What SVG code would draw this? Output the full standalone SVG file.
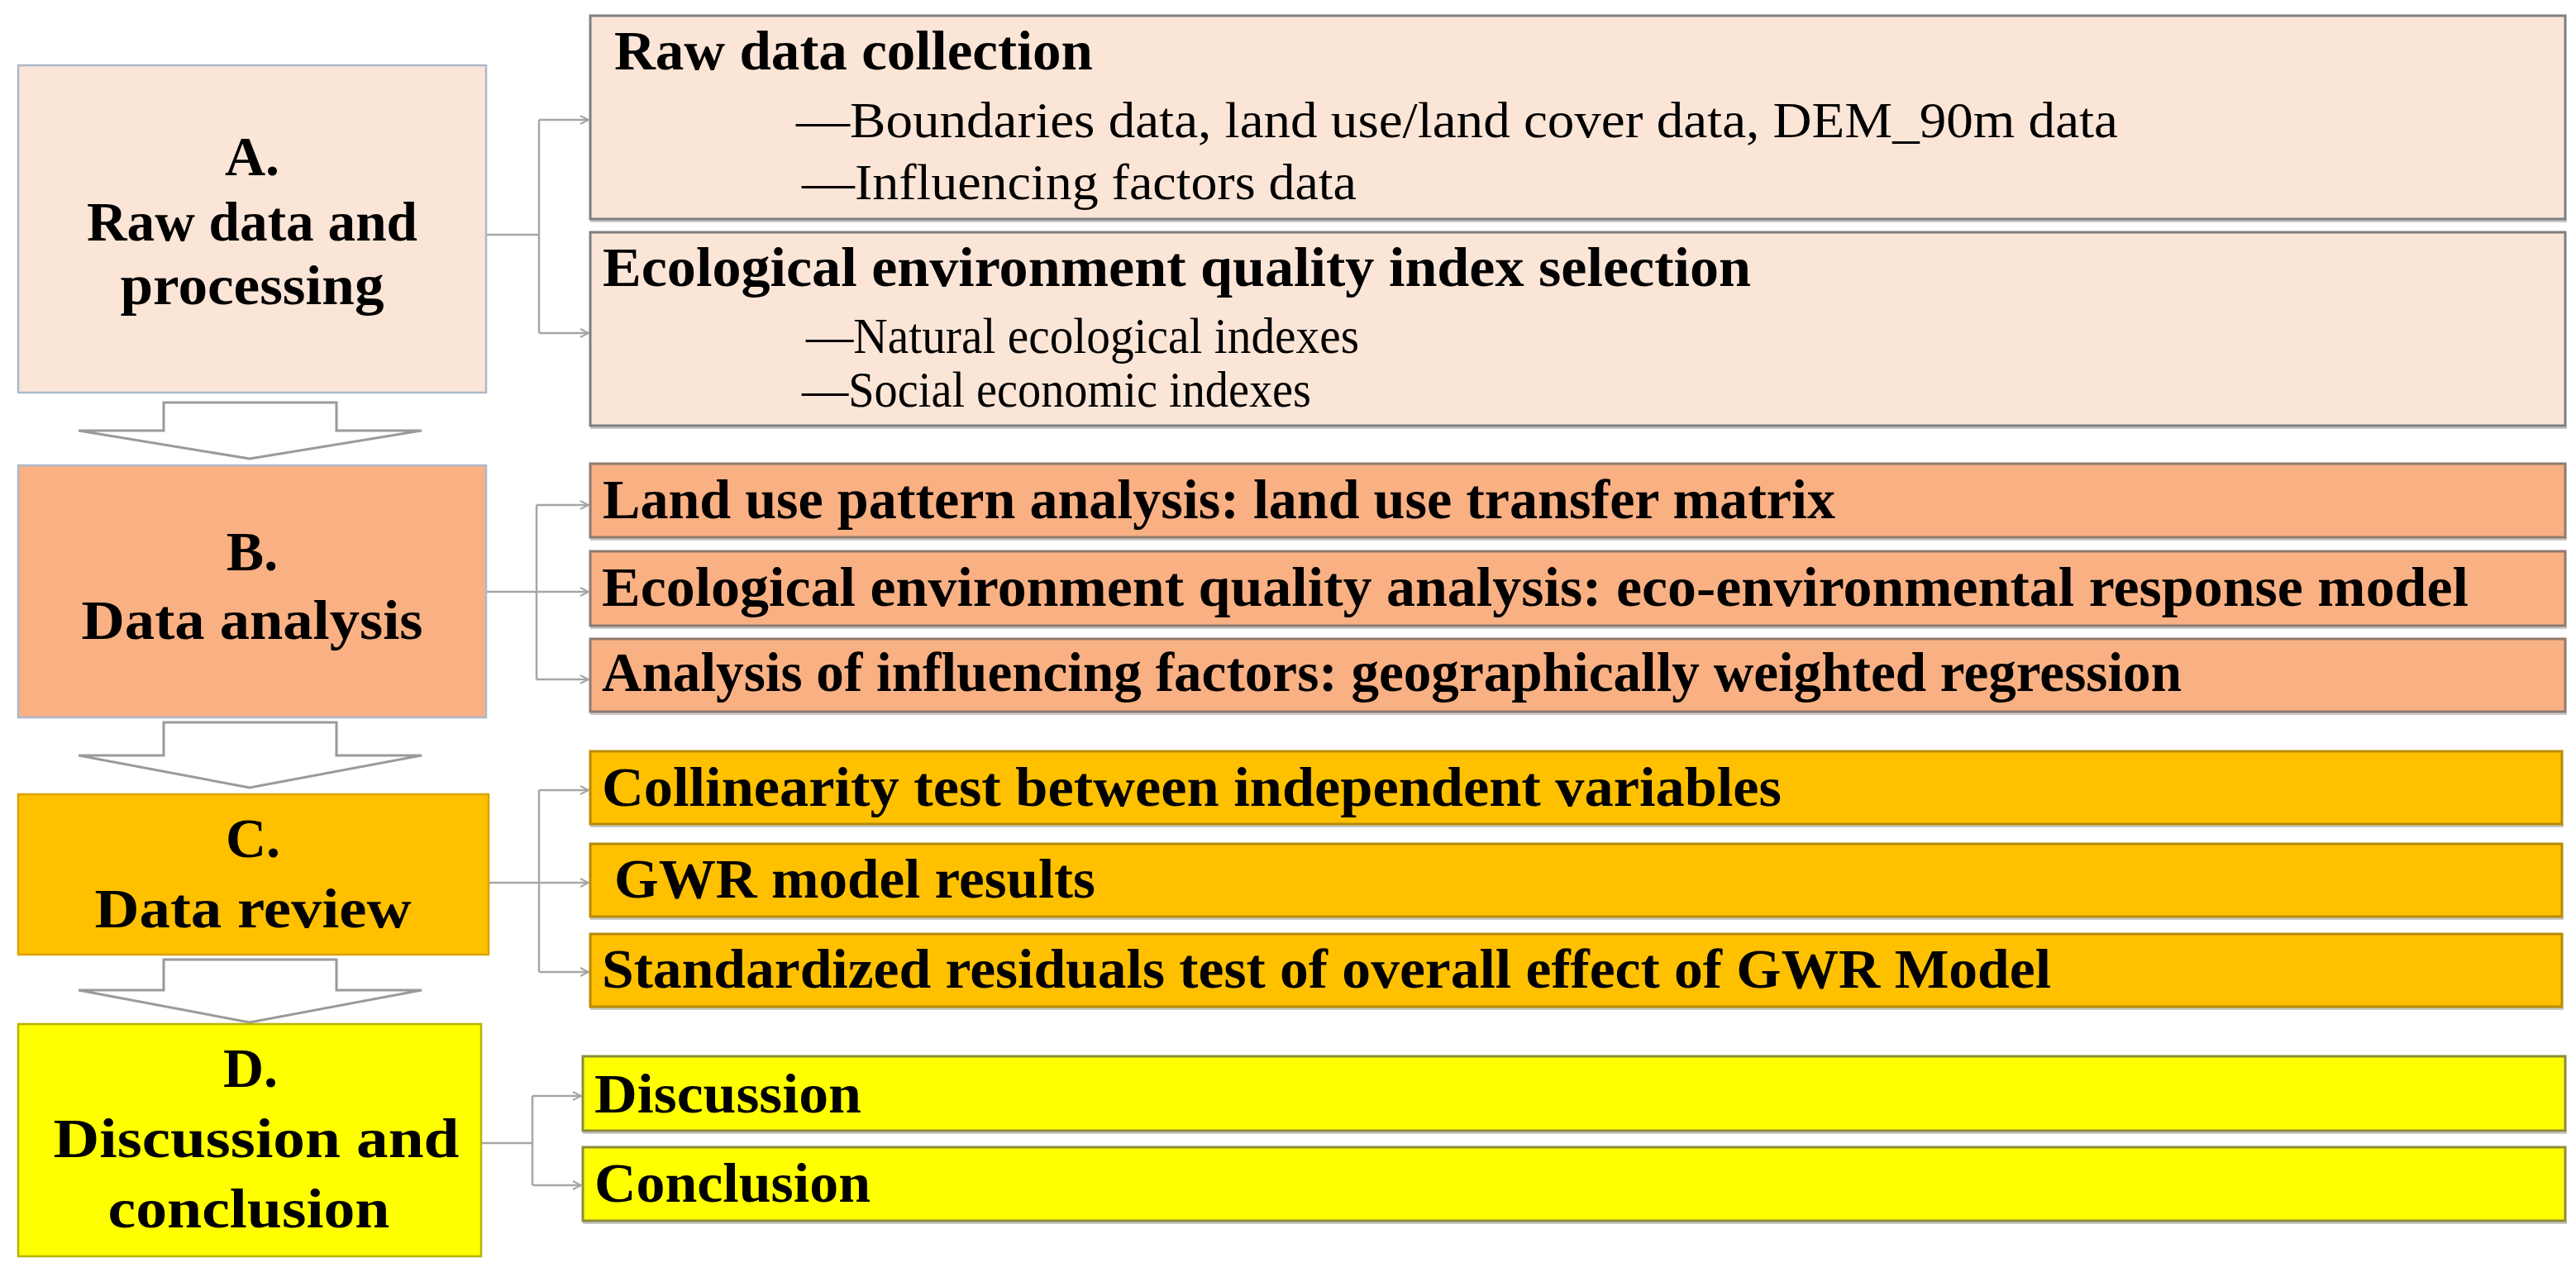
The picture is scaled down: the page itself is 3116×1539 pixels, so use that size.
<svg xmlns="http://www.w3.org/2000/svg" width="3116" height="1539" viewBox="0 0 3116 1539">
<style>
text{font-family:"Liberation Serif","DejaVu Serif",serif;fill:#000}
.h{font-size:68px;font-weight:bold}
.s{font-size:62px}
.c{text-anchor:middle}
.conn{fill:none;stroke:#A6A6A6;stroke-width:2.5}
.blk{fill:#fff;stroke:#9A9A9A;stroke-width:3;stroke-linejoin:miter}
.fa{fill:#FBE5D6}.fb{fill:#F9B083}.fc{fill:#FFC000}.fd{fill:#FFFF00}
.ma{stroke:#ACB9CA;stroke-width:2.5}
.mc{stroke:#D9A300;stroke-width:2.5}
.md{stroke:#B5B500;stroke-width:2.5}
.sa{stroke:#7F7F7F;stroke-width:3}
.sb{stroke:#8E7A6E;stroke-width:3}
.sc{stroke:#B88A00;stroke-width:3}
.sd{stroke:#8C8C3C;stroke-width:3}
.sh{fill:#C8C8C8}
</style>
<defs>
<marker id="ah" viewBox="0 0 10 10" refX="9" refY="5" markerWidth="5" markerHeight="5" orient="auto" markerUnits="strokeWidth">
<path d="M1,1 L9,5 L1,9" fill="none" stroke="#A6A6A6" stroke-width="1.6"/>
</marker>
</defs>

<g id="connectors">
<path class="conn" d="M588,284 H652 M652,145 V403"/>
<path class="conn" d="M652,145 H712" marker-end="url(#ah)"/>
<path class="conn" d="M652,403 H712" marker-end="url(#ah)"/>
<path class="conn" d="M588,716 H649 M649,611 V822"/>
<path class="conn" d="M649,611 H712" marker-end="url(#ah)"/>
<path class="conn" d="M649,716 H712" marker-end="url(#ah)"/>
<path class="conn" d="M649,822 H712" marker-end="url(#ah)"/>
<path class="conn" d="M591,1068 H652 M652,956 V1176"/>
<path class="conn" d="M652,956 H712" marker-end="url(#ah)"/>
<path class="conn" d="M652,1068 H712" marker-end="url(#ah)"/>
<path class="conn" d="M652,1176 H712" marker-end="url(#ah)"/>
<path class="conn" d="M582,1383 H644 M644,1326 V1434"/>
<path class="conn" d="M644,1326 H703" marker-end="url(#ah)"/>
<path class="conn" d="M644,1434 H703" marker-end="url(#ah)"/>
<path class="blk" d="M198,487 H407 V521 H510 L302,555 L95,521 H198 Z"/>
<path class="blk" d="M198,874 H407 V914 H510 L302,953 L95,914 H198 Z"/>
<path class="blk" d="M198,1161 H407 V1198 H510 L302,1237 L95,1198 H198 Z"/>
</g>

<g id="nodeA">
<rect class="fa ma" x="22" y="79" width="566" height="396"/>
<text class="h c" x="305" y="212">A.</text>
<text class="h c" x="305" y="291" textLength="400" lengthAdjust="spacingAndGlyphs">Raw data and</text>
<text class="h c" x="305" y="368" textLength="319" lengthAdjust="spacingAndGlyphs">processing</text>
</g>
<g id="nodeA1">
<rect class="sh" x="714" y="265" width="2391" height="4"/>
<rect class="fa sa" x="714" y="19" width="2389" height="246"/>
<text class="h" x="743" y="84" textLength="579" lengthAdjust="spacingAndGlyphs">Raw data collection</text>
<text class="s" x="963" y="166" textLength="1599" lengthAdjust="spacingAndGlyphs">—Boundaries data, land use/land cover data, DEM_90m data</text>
<text class="s" x="970" y="241" textLength="671" lengthAdjust="spacingAndGlyphs">—Influencing factors data</text>
</g>
<g id="nodeA2">
<rect class="sh" x="714" y="515" width="2391" height="4"/>
<rect class="fa sa" x="714" y="281" width="2389" height="234"/>
<text class="h" x="729" y="346" textLength="1389" lengthAdjust="spacingAndGlyphs">Ecological environment quality index selection</text>
<text class="s" x="975" y="427" textLength="669" lengthAdjust="spacingAndGlyphs">—Natural ecological indexes</text>
<text class="s" x="970" y="492" textLength="616" lengthAdjust="spacingAndGlyphs">—Social economic indexes</text>
</g>

<g id="nodeB">
<rect class="fb ma" x="22" y="563" width="566" height="305"/>
<text class="h c" x="305" y="690">B.</text>
<text class="h c" x="305" y="773" textLength="413" lengthAdjust="spacingAndGlyphs">Data analysis</text>
</g>
<g id="nodeB1">
<rect class="sh" x="714" y="650" width="2391" height="4"/>
<rect class="fb sb" x="714" y="561" width="2389" height="89"/>
<text class="h" x="729" y="627" textLength="1491" lengthAdjust="spacingAndGlyphs">Land use pattern analysis: land use transfer matrix</text>
</g>
<g id="nodeB2">
<rect class="sh" x="714" y="757" width="2391" height="4"/>
<rect class="fb sb" x="714" y="667" width="2389" height="90"/>
<text class="h" x="728" y="733" textLength="2258" lengthAdjust="spacingAndGlyphs">Ecological environment quality analysis: eco-environmental response model</text>
</g>
<g id="nodeB3">
<rect class="sh" x="714" y="861" width="2391" height="4"/>
<rect class="fb sb" x="714" y="773" width="2389" height="88"/>
<text class="h" x="728" y="836" textLength="1911" lengthAdjust="spacingAndGlyphs">Analysis of influencing factors: geographically weighted regression</text>
</g>

<g id="nodeC">
<rect class="fc mc" x="22" y="961" width="569" height="194"/>
<text class="h c" x="306" y="1037">C.</text>
<text class="h c" x="306" y="1122" textLength="383" lengthAdjust="spacingAndGlyphs">Data review</text>
</g>
<g id="nodeC1">
<rect class="sh" x="714" y="997" width="2387" height="4"/>
<rect class="fc sc" x="714" y="909" width="2385" height="88"/>
<text class="h" x="728" y="975" textLength="1427" lengthAdjust="spacingAndGlyphs">Collinearity test between independent variables</text>
</g>
<g id="nodeC2">
<rect class="sh" x="714" y="1109" width="2387" height="4"/>
<rect class="fc sc" x="714" y="1021" width="2385" height="88"/>
<text class="h" x="743" y="1086" textLength="582" lengthAdjust="spacingAndGlyphs">GWR model results</text>
</g>
<g id="nodeC3">
<rect class="sh" x="714" y="1218" width="2387" height="4"/>
<rect class="fc sc" x="714" y="1130" width="2385" height="88"/>
<text class="h" x="728" y="1195" textLength="1753" lengthAdjust="spacingAndGlyphs">Standardized residuals test of overall effect of GWR Model</text>
</g>

<g id="nodeD">
<rect class="fd md" x="22" y="1239" width="560" height="281"/>
<text class="h c" x="303" y="1315">D.</text>
<text class="h c" x="310" y="1400" textLength="491" lengthAdjust="spacingAndGlyphs">Discussion and</text>
<text class="h c" x="301" y="1485" textLength="341" lengthAdjust="spacingAndGlyphs">conclusion</text>
</g>
<g id="nodeD1">
<rect class="sh" x="705" y="1368" width="2400" height="4"/>
<rect class="fd sd" x="705" y="1278" width="2398" height="90"/>
<text class="h" x="719" y="1346" textLength="323" lengthAdjust="spacingAndGlyphs">Discussion</text>
</g>
<g id="nodeD2">
<rect class="sh" x="705" y="1477" width="2400" height="4"/>
<rect class="fd sd" x="705" y="1388" width="2398" height="89"/>
<text class="h" x="719" y="1454" textLength="334" lengthAdjust="spacingAndGlyphs">Conclusion</text>
</g>
</svg>
